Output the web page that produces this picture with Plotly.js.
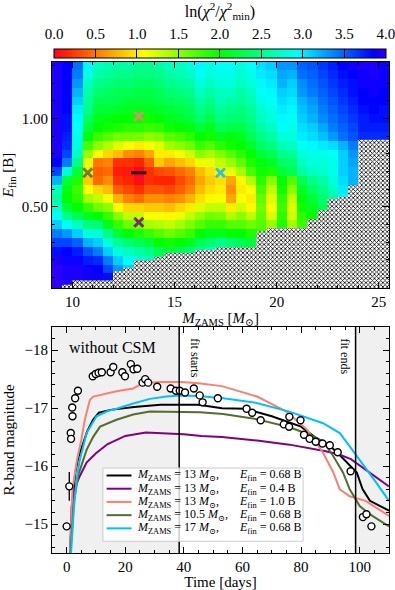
<!DOCTYPE html>
<html>
<head>
<meta charset="utf-8">
<script src="https://cdn.plot.ly/plotly-3.0.1.min.js"></script>
<style>
  html, body { margin: 0; padding: 0; background: #fff; }
  #chart { width: 395px; height: 590px; }
</style>
</head>
<body>
<div id="chart"></div>
<script>
(function(){
  // ---------- Data: chi2 map ----------
  // lower edge of each model mass cell (0.5 Msun wide)
  const mZams = [9, 9.5, 10, 10.5, 11, 11.5, 12, 12.5, 13, 13.5, 14, 14.5, 15, 15.5, 16, 16.5,
                 17, 17.5, 18, 18.5, 19, 19.5, 20, 20.5, 21, 21.5, 22, 22.5, 23, 23.5, 24, 24.5, 25];
  // explosion energy rows, top to bottom
  const eFin = [1.30, 1.25, 1.20, 1.15, 1.10, 1.05, 1.00, 0.95, 0.90, 0.85, 0.80, 0.75, 0.70,
                0.65, 0.60, 0.55, 0.50, 0.45, 0.40, 0.35, 0.30, 0.25, 0.20, 0.15, 0.10, 0.05];
  // ln(chi2/chi2_min), one column per mass, rows follow eFin (missing tail = no model)
  const lnChi2 = [
    [3.95,3.95,3.95,3.95,3.95,3.95,3.95,3.95,3.95,3.95,3.95,3.85,3.6,3.2,2.7,2.6,2.75,2.9,3.1,3.4,3.6,3.8,3.95,4.0,4.0,4.0],
    [3.85,3.85,3.85,3.85,3.85,3.85,3.8,3.8,3.75,3.7,3.6,3.4,2.8,2.2,2.05,2.0,2.2,2.5,2.9,3.3,3.6,3.85,3.9,3.95,3.95,3.95],
    [3.45,3.4,3.3,3.2,3.1,3.0,2.95,2.9,2.85,2.8,2.7,2.5,2.2,1.9,1.8,1.85,2.0,2.3,2.7,3.1,3.5,3.75,3.9,3.95,3.95],
    [2.95,2.85,2.7,2.6,2.55,2.5,2.35,2.2,2.05,1.75,1.45,1.15,1.0,0.85,1.1,1.4,1.8,2.1,2.45,2.8,3.2,3.55,3.75,3.9,3.9],
    [2.7,2.6,2.5,2.4,2.3,2.2,2.1,2.0,1.8,1.5,1.1,0.5,0.4,0.45,0.9,1.3,1.6,2.0,2.4,2.8,3.1,3.4,3.7,3.85,3.9],
    [2.65,2.55,2.45,2.35,2.3,2.2,2.05,1.95,1.7,1.35,0.9,0.55,0.45,0.6,0.8,1.1,1.5,1.8,2.1,2.5,2.8,3.1,3.4,3.6,3.8],
    [2.6,2.5,2.4,2.3,2.25,2.15,2.0,1.9,1.6,1.2,0.8,0.2,0.12,0.2,0.4,0.75,1.1,1.5,1.8,2.2,2.55,2.8,3.1,3.3],
    [2.6,2.5,2.4,2.3,2.2,2.1,2.0,1.85,1.6,1.1,0.6,0.2,0.1,0.15,0.3,0.55,0.9,1.3,1.6,2.0,2.4,2.7,2.9,3.1],
    [2.5,2.45,2.35,2.25,2.2,2.1,2.0,1.85,1.6,1.0,0.55,0.15,0.0,0.05,0.2,0.45,0.9,1.3,1.6,1.9,2.3,2.6,2.8],
    [2.5,2.45,2.35,2.25,2.2,2.1,1.95,1.8,1.5,1.1,0.7,0.4,0.2,0.2,0.35,0.6,0.85,1.1,1.4,1.8,2.2,2.5,2.7],
    [2.6,2.5,2.4,2.3,2.25,2.15,2.0,1.85,1.55,1.2,1.0,0.85,0.3,0.15,0.35,0.6,0.85,1.1,1.35,1.7,2.0,2.3,2.5],
    [2.7,2.6,2.5,2.4,2.3,2.2,2.1,1.95,1.7,1.4,1.0,0.7,0.35,0.15,0.3,0.55,0.8,1.05,1.3,1.6,1.95,2.2],
    [2.7,2.65,2.55,2.45,2.35,2.25,2.15,2.0,1.75,1.5,1.1,0.8,0.45,0.3,0.4,0.6,0.9,1.15,1.4,1.7,2.0,2.3],
    [2.8,2.7,2.6,2.5,2.4,2.3,2.2,2.05,1.85,1.6,1.25,0.9,0.55,0.45,0.55,0.75,1.0,1.3,1.55,1.8,2.1,2.4],
    [2.95,2.9,2.8,2.7,2.6,2.5,2.4,2.2,2.0,1.8,1.5,1.15,0.8,0.7,0.8,0.95,1.2,1.45,1.7,2.0,2.3,2.5],
    [2.85,2.8,2.7,2.6,2.5,2.4,2.25,2.1,1.95,1.7,1.4,1.15,0.95,0.85,0.95,1.05,1.3,1.6,1.8,2.1,2.4,2.7],
    [2.9,2.85,2.8,2.7,2.65,2.55,2.45,2.3,2.1,1.85,1.55,1.3,1.05,0.95,1.0,1.1,1.3,1.55,1.8,2.1,2.5,2.7],
    [2.9,2.85,2.8,2.7,2.6,2.5,2.4,2.25,2.05,1.95,1.7,1.45,1.15,0.7,0.6,0.7,1.0,1.35,1.7,2.0,2.4,2.6],
    [2.8,2.75,2.7,2.6,2.55,2.45,2.4,2.25,2.1,2.0,1.85,1.65,1.4,1.05,1.0,1.1,1.25,1.5,1.7,2.0,2.3,2.5],
    [2.9,2.85,2.8,2.7,2.65,2.55,2.5,2.4,2.3,2.15,2.0,1.9,1.75,1.35,1.1,1.0,1.05,1.3,1.6,1.9,2.2,2.45],
    [3.05,3.0,2.95,2.9,2.85,2.75,2.7,2.6,2.5,2.35,2.2,2.05,1.95,1.85,1.75,1.65,1.6,1.65,1.7,1.8],
    [3.1,3.05,3.0,2.95,2.9,2.85,2.8,2.7,2.6,2.45,2.3,2.15,1.9,1.5,1.3,1.2,1.1,1.2,1.45],
    [3.3,3.25,3.2,3.1,3.05,3.0,2.95,2.9,2.8,2.65,2.5,2.35,2.2,2.0,1.95,1.85,1.8,1.85,1.9],
    [3.3,3.2,3.1,3.05,3.0,2.95,2.9,2.85,2.8,2.7,2.55,2.4,2.3,1.7,1.5,1.3,1.2,1.25,1.4],
    [3.5,3.45,3.35,3.3,3.2,3.15,3.1,3.05,3.0,2.9,2.8,2.7,2.6,2.3,2.15,2.05,1.95,1.85,1.8],
    [3.55,3.5,3.45,3.4,3.3,3.25,3.2,3.1,3.05,2.95,2.85,2.8,2.7,2.5,2.35,2.2,2.1,2.0],
    [3.65,3.6,3.55,3.5,3.45,3.4,3.35,3.25,3.15,3.0,2.85,2.8,2.75,2.6,2.5,2.4,2.3],
    [3.75,3.7,3.65,3.6,3.55,3.5,3.45,3.4,3.3,3.05,2.9,2.85,2.85,2.8,2.7,2.6],
    [3.85,3.8,3.75,3.7,3.65,3.6,3.55,3.5,3.45,3.2,3.1,3.1,3.1,3.05,3.0,2.95],
    [3.9,3.85,3.8,3.8,3.75,3.7,3.65,3.6,3.55,3.4,3.3,3.25,3.2,3.2,3.2],
    [3.95,3.9,3.9,3.85,3.85,3.8,3.75,3.75,3.7],
    [3.95,3.95,3.9,3.9,3.85,3.85,3.8,3.75,3.7],
    [3.9,3.9,3.9,3.85,3.85,3.8,3.8,3.75,3.7]
  ];
  // upper edge of the region without converged models, per mass cell
  const noModelTop = [0.0, 0.059, 0.082, 0.082, 0.082, 0.082, 0.136, 0.155, 0.197, 0.197, 0.216, 0.238,
                      0.238, 0.238, 0.255, 0.255, 0.27, 0.27, 0.27, 0.27, 0.36, 0.38, 0.38, 0.38, 0.38,
                      0.43, 0.48, 0.545, 0.557, 0.62, 0.88, 0.88, 0.88];

  // highlighted models
  const modelM = [13, 13, 13, 10.5, 17];
  const modelE = ['0.68', '0.4', '1.0', '0.68', '0.68'];
  const modelColor = ['#000000', '#800080', '#fa8072', '#556b2f', '#00bfff'];

  // ---------- Data: light curves ----------
  const obsT = [0.0, 0.9, 1.4, 1.5, 1.9, 2.0, 2.9, 3.85, 8.9, 9.9, 10.9, 12.0, 15.0, 15.9, 19.0, 19.9,
                21.9, 22.8, 24.1, 25.9, 26.8, 27.8, 30.9, 35.5, 37.3, 38.6, 40.4, 43.4, 45.4, 46.4,
                51.6, 61.4, 63.3, 66.2, 74.1, 75.9, 76.0, 79.8, 81.0, 82.9, 85.0, 87.3, 89.8, 92.5,
                96.9, 101.1, 102.3, 104.0];
  const obsMag = [-14.96, -15.65, -16.57, -16.47, -17.01, -16.86, -17.17, -17.30, -17.55, -17.59, -17.61,
                  -17.62, -17.62, -17.71, -17.62, -17.55, -17.76, -17.67, -17.68, -17.44, -17.50, -17.44,
                  -17.37, -17.34, -17.30, -17.30, -17.27, -17.34, -17.22, -17.10, -17.17, -16.99, -16.92,
                  -16.79, -16.72, -16.68, -16.85, -16.79, -16.54, -16.47, -16.42, -16.39, -16.36, -16.24,
                  -15.91, -15.12, -15.17, -14.96];
  const obsErr = [0, 0.25, 0, 0, 0, 0, 0, 0, 0, 0, 0, 0, 0, 0, 0, 0, 0, 0, 0, 0, 0, 0, 0, 0, 0, 0, 0, 0,
                  0, 0, 0, 0, 0, 0, 0, 0, 0, 0, 0, 0, 0, 0, 0, 0, 0, 0, 0, 0];

  const tM13E068 = [1.2, 2, 3, 4, 5, 7, 9, 11, 15, 23, 32, 40, 45, 53, 61, 70, 76, 80, 85, 90, 93, 96, 99, 101, 103.5, 107, 110];
  const mM13E068 = [-14.5, -15.4, -15.9, -16.15, -16.3, -16.6, -16.8, -16.92, -16.97, -17.02, -17.06, -17.06, -17.06,
                    -17.0, -16.99, -16.86, -16.76, -16.68, -16.49, -16.34, -16.2, -16.05, -15.89, -15.6, -15.4, -15.31, -15.23];
  const tM13E04 = [1.2, 1.7, 3, 4.5, 6.8, 10, 14, 20, 27, 34, 40, 46, 53, 65, 76, 88, 93, 97, 102, 110];
  const mM13E04 = [-14.5, -15.3, -15.65, -15.83, -16.06, -16.22, -16.38, -16.52, -16.58, -16.57, -16.55, -16.52,
                   -16.5, -16.44, -16.37, -16.26, -16.2, -16.12, -15.94, -15.65];
  const tM13E10 = [1.1, 2, 3.5, 5, 6.2, 7.9, 9.1, 11.5, 17, 22.7, 26, 32, 39, 45, 53, 65, 75, 82, 87.5, 91, 93.2, 96.6, 102, 110];
  const mM13E10 = [-14.5, -15.6, -16.1, -16.45, -16.8, -17.14, -17.2, -17.23, -17.29, -17.34, -17.43, -17.45, -17.45,
                   -17.43, -17.38, -17.2, -16.94, -16.63, -16.23, -15.89, -15.6, -15.48, -15.4, -15.14];
  const tM105E068 = [1.3, 2.5, 4, 5.5, 6.8, 9, 11.4, 17, 22.7, 28.4, 34, 39, 45.5, 53.4, 64.8, 76, 83, 87.5, 91, 94.3, 96.6, 100, 103.4, 110];
  const mM105E068 = [-14.5, -15.4, -15.85, -16.1, -16.28, -16.5, -16.68, -16.8, -16.89, -16.94, -16.94, -16.94, -16.93,
                     -16.9, -16.81, -16.67, -16.54, -16.43, -16.17, -15.89, -15.6, -15.31, -15.17, -14.96];
  const tM17E068 = [1.5, 2.5, 3.5, 4.5, 6.8, 10.2, 14, 17, 22.7, 28.4, 34, 38.6, 45, 53.4, 64.8, 76, 87.5, 93.2, 96.6, 100, 102.3, 105.7, 110];
  const mM17E068 = [-14.5, -15.3, -15.8, -16.11, -16.57, -16.86, -16.95, -16.99, -17.08, -17.16, -17.2, -17.22, -17.21,
                    -17.17, -17.09, -16.94, -16.74, -16.57, -16.34, -16.11, -15.94, -15.71, -15.4];
  const curveT = [tM13E068, tM13E04, tM13E10, tM105E068, tM17E068];
  const curveMag = [mM13E068, mM13E04, mM13E10, mM105E068, mM17E068];

  const fitWindow = [38.4, 98.6];
  const timeRange = [-5, 110];

  // ---------- Style ----------
  const FONT = '"Liberation Serif", "DejaVu Serif", serif';
  const dM = mZams[1] - mZams[0];
  const gridStep = { m: 0.25, e: 0.0125 };   // original model grid half-step (marker at cell centre)

  // gist_rainbow, cut at 0.8
  const rainbow = [
    [0.0, 'rgb(255,0,41)'], [0.0375, 'rgb(255,36,0)'], [0.26875, 'rgb(255,255,0)'],
    [0.5, 'rgb(0,255,0)'], [0.7325, 'rgb(0,255,255)'], [0.9625, 'rgb(0,0,255)'], [1.0, 'rgb(42,0,255)']
  ];

  function axis(o){
    const base = {
      showline: true, linecolor: 'black', linewidth: 1, mirror: 'allticks',
      ticks: 'inside', ticklen: 6, tickwidth: 1, tickcolor: 'black',
      showgrid: false, zeroline: false, automargin: false,
      tickfont: { size: 15 }
    };
    const minor = Object.assign({ ticks: 'inside', ticklen: 3, tickwidth: 1, tickcolor: 'black', showgrid: false }, o.minor || {});
    return Object.assign(base, o, { minor: minor });
  }

  // ---------- Traces ----------
  const zRows = eFin.map((e, r) => lnChi2.map(col => (col[r] === undefined ? null : col[r])));
  const heat = {
    type: 'heatmap', xaxis: 'x', yaxis: 'y',
    x: mZams.map(m => m + dM / 2), y: eFin, z: zRows,
    zmin: 0, zmax: 4, colorscale: rainbow, zsmooth: false, hoverinfo: 'skip',
    colorbar: {
      orientation: 'h', x: 0.4985, xanchor: 'center', y: 1.0, yanchor: 'top',
      lenmode: 'pixels', len: 332, thicknessmode: 'pixels', thickness: 9,
      xpad: 0, ypad: 0, outlinewidth: 1, outlinecolor: 'black',
      tick0: 0, dtick: 0.5, ticks: 'inside', ticklen: 9, tickcolor: 'black', showticklabels: false
    }
  };

  // hatched region of missing models
  const hx = [mZams[0]], hy = [0];
  mZams.forEach((m, i) => { hx.push(m, m + dM); hy.push(noModelTop[i], noModelTop[i]); });
  hx.push(mZams[mZams.length - 1] + dM); hy.push(0);
  const hatch = {
    type: 'scatter', mode: 'lines', xaxis: 'x', yaxis: 'y', x: hx, y: hy,
    fill: 'toself', fillcolor: 'white', line: { width: 0 },
    fillpattern: { shape: 'x', size: 3, solidity: 0.45, fgcolor: 'black', bgcolor: 'white' },
    hoverinfo: 'skip', showlegend: false
  };

  const picks = {
    type: 'scatter', mode: 'markers', xaxis: 'x', yaxis: 'y',
    x: modelM.map(m => m + gridStep.m), y: modelE.map(e => +e + gridStep.e),
    marker: {
      symbol: modelM.map((m, i) => i === 0 ? 'line-ew' : 'x-thin'),
      size: modelM.map((m, i) => i === 0 ? 11 : 9),
      color: modelColor, opacity: 0.85,
      line: { color: modelColor, width: 3 }
    },
    hoverinfo: 'skip', showlegend: false
  };

  const lcTraces = curveT.map((t, k) => ({
    type: 'scatter', mode: 'lines', xaxis: 'x2', yaxis: 'y2',
    x: t, y: curveMag[k], line: { color: modelColor[k], width: 2 },
    hoverinfo: 'skip', showlegend: false
  }));

  const obs = {
    type: 'scatter', mode: 'markers', xaxis: 'x2', yaxis: 'y2',
    x: obsT, y: obsMag,
    error_y: { type: 'data', array: obsErr, color: 'black', thickness: 1.3, width: 0 },
    marker: { symbol: 'circle', size: 7, color: 'white', line: { color: 'black', width: 1.4 } },
    showlegend: false, hoverinfo: 'skip'
  };

  // carries the tick labels of the colour bar
  const cbAxisTrace = { type: 'scatter', mode: 'markers', xaxis: 'x3', yaxis: 'y3', x: [], y: [], showlegend: false };

  // ---------- Legend (drawn in the lower panel's domain) ----------
  const leg = { x0: 0.151, x1: 0.745, top: 0.376, bottom: 0.052, row0: 0.343, rowStep: 0.0585,
                lineX: [0.162, 0.236], textX: 0.246, eX: 0.55, size: 12 };
  const legShapes = [{
    type: 'rect', xref: 'x2 domain', yref: 'y2 domain', x0: leg.x0, x1: leg.x1, y0: leg.bottom, y1: leg.top,
    fillcolor: 'rgba(255,255,255,0.8)', line: { color: '#cccccc', width: 1 }, layer: 'above'
  }];
  const legNotes = [];
  modelM.forEach((m, k) => {
    const yk = leg.row0 - k * leg.rowStep;
    legShapes.push({ type: 'line', xref: 'x2 domain', yref: 'y2 domain', x0: leg.lineX[0], x1: leg.lineX[1],
                     y0: yk, y1: yk, line: { color: modelColor[k], width: 2 }, layer: 'above' });
    legNotes.push({ text: '<i>M</i><sub>ZAMS</sub> = ' + m + ' <i>M</i><sub>⊙</sub>,', xref: 'x2 domain', yref: 'y2 domain',
                    x: leg.textX, y: yk, xanchor: 'left', yanchor: 'middle', showarrow: false, font: { size: leg.size } });
    legNotes.push({ text: '<i>E</i><sub>fin</sub> = ' + modelE[k] + ' B', xref: 'x2 domain', yref: 'y2 domain',
                    x: leg.eX, y: yk, xanchor: 'left', yanchor: 'middle', showarrow: false, font: { size: leg.size } });
  });

  // ---------- Layout ----------
  const layout = {
    width: 395, height: 590,
    margin: { l: 52, r: 6, t: 49, b: 37, pad: 0 },
    paper_bgcolor: 'white', plot_bgcolor: 'white',
    font: { family: FONT, size: 15, color: 'black' },
    showlegend: false,
    xaxis: axis({
      anchor: 'y', domain: [0, 1], range: [9, 25.5], tick0: 0, dtick: 5, minor: { dtick: 1 },
      title: { text: '<i>M</i><sub>ZAMS</sub> [<i>M</i><sub>⊙</sub>]', standoff: 2, font: { size: 15 } }
    }),
    yaxis: axis({
      anchor: 'x', domain: [0.5258, 0.9742], range: [0.04, 1.32], tick0: 0, dtick: 0.5, tickformat: '.2f',
      minor: { dtick: 0.1 },
      title: { text: '<i>E</i><sub>fin</sub> [B]', standoff: 4, font: { size: 15 } }
    }),
    xaxis2: axis({
      anchor: 'y2', domain: [0, 1], range: timeRange, tick0: 0, dtick: 20, minor: { dtick: 5 },
      title: { text: 'Time [days]', standoff: 2, font: { size: 15 } }
    }),
    yaxis2: axis({
      anchor: 'x2', domain: [0, 0.4484], range: [-14.5, -18.4], tick0: 0, dtick: 1, minor: { dtick: 0.2 },
      title: { text: 'R-band magnitude', standoff: 6, font: { size: 15 } }
    }),
    xaxis3: {
      anchor: 'y3', domain: [0.006, 0.991], range: [0, 4], side: 'top',
      tick0: 0, dtick: 0.5, tickformat: '.1f', ticks: '', ticklabelstandoff: 6, ticklabeloverflow: 'allow',
      showline: false, showgrid: false, zeroline: false, fixedrange: true,
      tickfont: { size: 15 },
      title: { text: 'ln(<i>χ</i><sup>2</sup>/<i>χ</i><sup>2</sup><sub>min</sub>)', standoff: 4, font: { size: 16 } }
    },
    yaxis3: { anchor: 'x3', domain: [0.9821, 1], range: [0, 1], visible: false, fixedrange: true },
    shapes: [
      { type: 'rect', xref: 'x2', yref: 'y2 domain', x0: timeRange[0], x1: fitWindow[0], y0: 0, y1: 1,
        fillcolor: '#f0f0f0', line: { width: 0 }, layer: 'below' },
      { type: 'rect', xref: 'x2', yref: 'y2 domain', x0: fitWindow[1], x1: timeRange[1], y0: 0, y1: 1,
        fillcolor: '#f0f0f0', line: { width: 0 }, layer: 'below' },
      { type: 'line', xref: 'x2', yref: 'y2 domain', x0: fitWindow[0], x1: fitWindow[0], y0: 0, y1: 1,
        line: { color: 'black', width: 1.5 } },
      { type: 'line', xref: 'x2', yref: 'y2 domain', x0: fitWindow[1], x1: fitWindow[1], y0: 0, y1: 1,
        line: { color: 'black', width: 1.5 } }
    ].concat(legShapes),
    annotations: [
      { text: 'without CSM', xref: 'x2 domain', yref: 'y2 domain', x: 0.045, y: 0.955,
        xanchor: 'left', yanchor: 'top', showarrow: false, font: { size: 16 } },
      { text: 'fit starts', xref: 'x2', yref: 'y2 domain', x: fitWindow[0], y: 0.96,
        xanchor: 'left', yanchor: 'top', xshift: 7, textangle: 90, showarrow: false, font: { size: 12 } },
      { text: 'fit ends', xref: 'x2', yref: 'y2 domain', x: fitWindow[1], y: 0.96,
        xanchor: 'right', yanchor: 'top', xshift: -2, textangle: 90, showarrow: false, font: { size: 12 } }
    ].concat(legNotes)
  };

  Plotly.newPlot('chart', [heat, hatch, picks, ...lcTraces, obs, cbAxisTrace], layout,
                 { displayModeBar: false, staticPlot: true });
})();
</script>
</body>
</html>
